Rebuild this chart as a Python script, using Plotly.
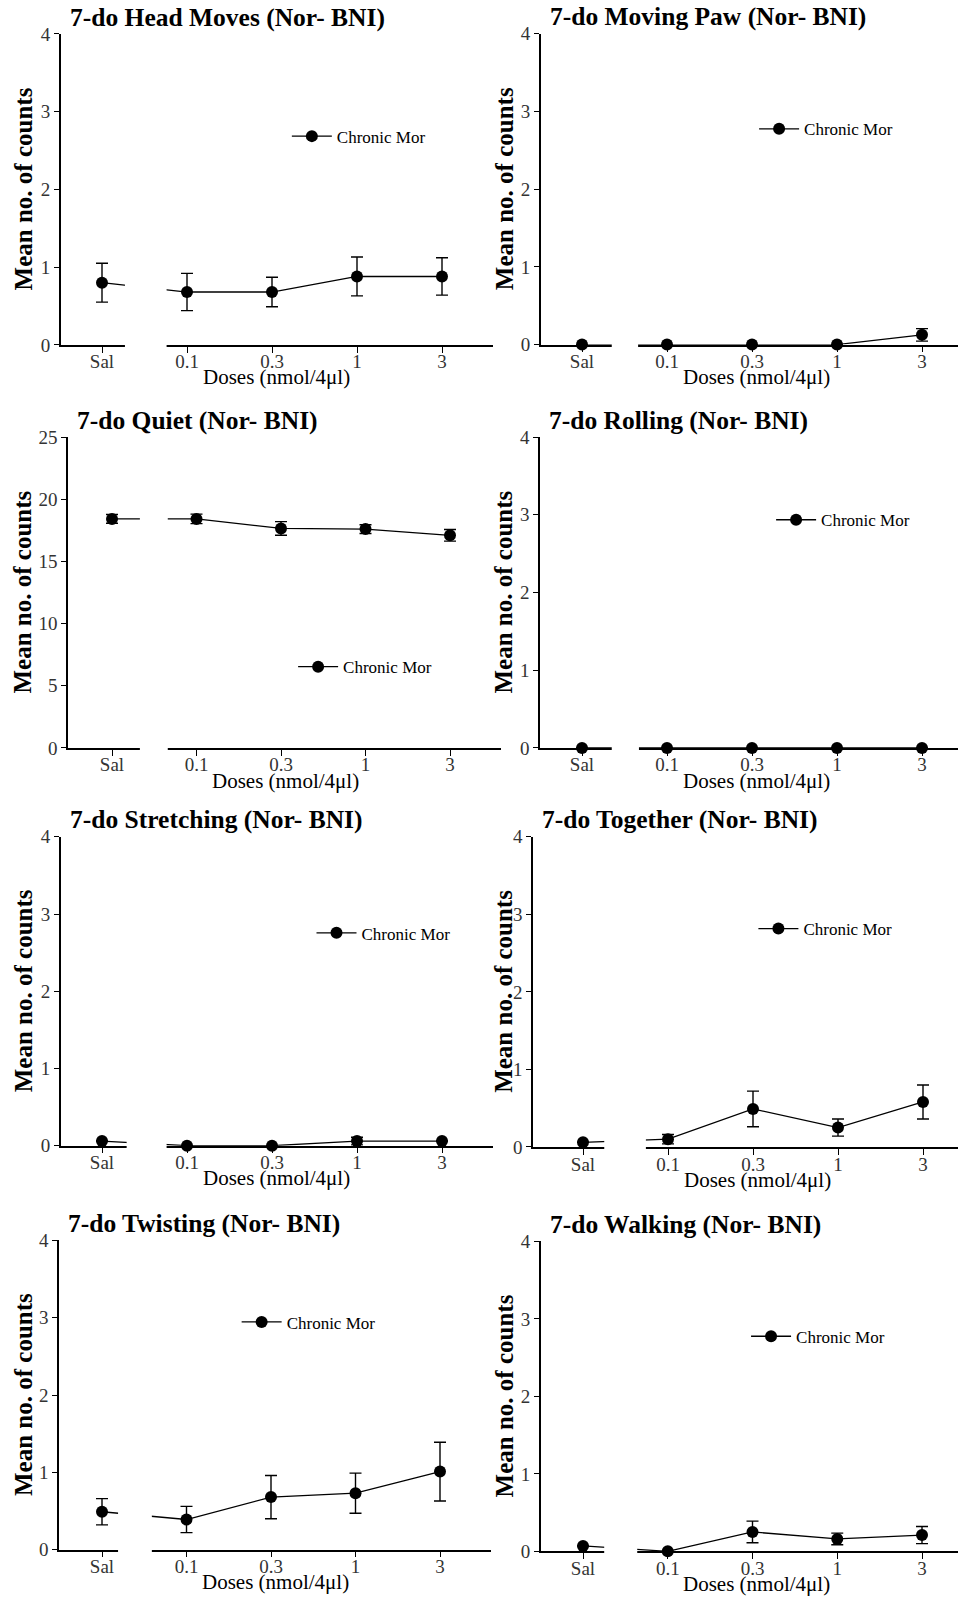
import plotly.graph_objects as go

W, H = 958, 1610

# ---------------- data ----------------
categories = ["Sal", "0.1", "0.3", "1", "3"]
series_name = "Chronic Mor"
x_title = "Doses (nmol/4\u03bcl)"
y_title = "Mean no. of counts"

panel_titles = [
    "7-do Head Moves (Nor- BNI)",
    "7-do Moving Paw (Nor- BNI)",
    "7-do Quiet (Nor- BNI)",
    "7-do Rolling (Nor- BNI)",
    "7-do Stretching (Nor- BNI)",
    "7-do Together (Nor- BNI)",
    "7-do Twisting (Nor- BNI)",
    "7-do Walking (Nor- BNI)",
]

head_moves_mean = [0.80, 0.68, 0.68, 0.88, 0.88]
head_moves_sem = [0.25, 0.24, 0.19, 0.25, 0.24]

moving_paw_mean = [0.0, 0.0, 0.0, 0.0, 0.125]
moving_paw_sem = [0.0, 0.0, 0.0, 0.0, 0.08]

quiet_mean = [18.42, 18.42, 17.65, 17.6, 17.1]
quiet_sem = [0.35, 0.38, 0.55, 0.35, 0.47]

rolling_mean = [0.0, 0.0, 0.0, 0.0, 0.0]
rolling_sem = [0.0, 0.0, 0.0, 0.0, 0.0]

stretching_mean = [0.06, 0.0, 0.0, 0.06, 0.06]
stretching_sem = [0.0, 0.0, 0.0, 0.05, 0.0]

together_mean = [0.06, 0.10, 0.49, 0.25, 0.58]
together_sem = [0.0, 0.06, 0.23, 0.11, 0.22]

twisting_mean = [0.49, 0.39, 0.68, 0.73, 1.01]
twisting_sem = [0.17, 0.17, 0.28, 0.26, 0.38]

walking_mean = [0.07, 0.0, 0.25, 0.16, 0.21]
walking_sem = [0.0, 0.0, 0.14, 0.075, 0.11]

y_max = [4, 4, 25, 4, 4, 4, 4, 4]
y_step = [1, 1, 5, 1, 1, 1, 1, 1]

means = [head_moves_mean, moving_paw_mean, quiet_mean, rolling_mean,
         stretching_mean, together_mean, twisting_mean, walking_mean]
sems = [head_moves_sem, moving_paw_sem, quiet_sem, rolling_sem,
        stretching_sem, together_sem, twisting_sem, walking_sem]

# ---------------- layout geometry (pixels) ----------------
# x0: y-axis line, xs: pixel of first category, dx: px per category,
# yt / yb: pixel of y max / y=0, brk: axis break (category units), leg: legend anchor (data units)
geom = [
    dict(x0=60.7, xs=102, dx=85.0, yt=24.3, yb=339.3, brk=(0.27, 0.76), leg=(2.41, 2.68)),
    dict(x0=540.7, xs=582, dx=85.0, yt=24.0, yb=339.0, brk=(0.35, 0.66), leg=(2.26, 2.77)),
    dict(x0=68.0, xs=112, dx=84.5, yt=432.7, yb=747.7, brk=(0.33, 0.66), leg=(2.38, 6.5)),
    dict(x0=540.0, xs=582, dx=85.0, yt=432.7, yb=747.7, brk=(0.35, 0.67), leg=(2.46, 2.93)),
    dict(x0=60.7, xs=102, dx=85.0, yt=837.7, yb=1150.7, brk=(0.29, 0.76), leg=(2.70, 2.75)),
    dict(x0=533.0, xs=583, dx=85.0, yt=837.7, yb=1152.0, brk=(0.25, 0.74), leg=(2.24, 2.81)),
    dict(x0=59.0, xs=102, dx=84.5, yt=1246.7, yb=1560.0, brk=(0.19, 0.59), leg=(1.83, 2.94)),
    dict(x0=540.7, xs=583, dx=84.75, yt=1247.7, yb=1561.7, brk=(0.25, 0.64), leg=(2.16, 2.77)),
]

SERIF = "Liberation Serif, Times New Roman, serif"

fig = go.Figure()
layout = dict(
    width=W, height=H, autosize=False,
    margin=dict(l=0, r=0, t=0, b=0),
    paper_bgcolor="white", plot_bgcolor="white",
    showlegend=True,
)
shapes = []
annotations = []

xpos = list(range(len(categories)))

for i in range(8):
    g = geom[i]
    xa = "x" if i == 0 else f"x{i + 1}"
    ya = "y" if i == 0 else f"y{i + 1}"
    xkey = "xaxis" if i == 0 else f"xaxis{i + 1}"
    ykey = "yaxis" if i == 0 else f"yaxis{i + 1}"
    lkey = "legend" if i == 0 else f"legend{i + 1}"

    xr = min(W, g["xs"] + 4.6 * g["dx"])
    r0 = (g["x0"] - g["xs"]) / g["dx"]
    r1 = (xr - g["xs"]) / g["dx"]

    fig.add_trace(go.Scatter(
        x=xpos, y=means[i],
        error_y=dict(type="data", array=sems[i], visible=True, color="black",
                     thickness=1.4, width=6),
        mode="lines+markers",
        line=dict(color="black", width=1.3),
        marker=dict(color="black", size=12),
        cliponaxis=False,
        name=series_name,
        xaxis=xa, yaxis=ya,
        legend=lkey, showlegend=True,
    ))

    layout[xkey] = dict(
        domain=[g["x0"] / W, xr / W], range=[r0, r1], anchor=ya,
        showline=True, linecolor="black", linewidth=1.5,
        ticks="outside", ticklen=6, tickwidth=1.3, tickcolor="black",
        tickvals=xpos, ticktext=categories,
        tickfont=dict(family=SERIF, size=19, color="#333"),
        ticklabelstandoff=-7,
        showgrid=False, zeroline=False, fixedrange=True,
    )
    layout[ykey] = dict(
        domain=[1 - g["yb"] / H, 1 - g["yt"] / H], range=[0, y_max[i]], anchor=xa,
        showline=True, linecolor="black", linewidth=1.5,
        ticks="outside", ticklen=5, tickwidth=1.3, tickcolor="black",
        dtick=y_step[i], tick0=0,
        tickfont=dict(family=SERIF, size=19, color="#333"),
        showgrid=False, zeroline=False, fixedrange=True,
    )

    # axis break (white mask over gap between Sal and doses)
    b1, b2 = g["brk"]
    shapes.append(dict(
        type="rect", xref=f"{xa} domain", yref=f"{ya} domain",
        x0=(b1 - r0) / (r1 - r0), x1=(b2 - r0) / (r1 - r0), y0=-0.03, y1=1.0,
        fillcolor="white", line=dict(width=0), layer="above",
    ))

    # legend placement
    lx, ly = g["leg"]
    px = g["xs"] + lx * g["dx"]
    py = g["yb"] - ly * (g["yb"] - g["yt"]) / y_max[i]
    layout[lkey] = dict(
        x=(px - 20) / W, y=1 - py / H, xanchor="left", yanchor="middle",
        bgcolor="rgba(0,0,0,0)", borderwidth=0,
        font=dict(family=SERIF, size=17, color="black"),
        itemwidth=40,
    )

    # panel title
    annotations.append(dict(
        text=f"<b>{panel_titles[i]}</b>", xref="paper", yref="paper",
        x=(g["x0"] + 7) / W, y=1 - (g["yt"] - 17) / H,
        xanchor="left", yanchor="middle", showarrow=False,
        font=dict(family=SERIF, size=25.5, color="black"),
    ))
    # y axis title
    ycx = 23 if g["x0"] < 300 else 504
    annotations.append(dict(
        text=f"<b>{y_title}</b>", xref="paper", yref="paper",
        x=ycx / W, y=1 - ((g["yt"] + g["yb"]) / 2) / H,
        xanchor="center", yanchor="middle", textangle=-90, showarrow=False,
        font=dict(family=SERIF, size=25, color="black"),
    ))
    # x axis title
    annotations.append(dict(
        text=x_title, xref="paper", yref="paper",
        x=(g["xs"] + 2.05 * g["dx"]) / W, y=1 - (g["yb"] + 33) / H,
        xanchor="center", yanchor="middle", showarrow=False,
        font=dict(family=SERIF, size=21, color="black"),
    ))

layout["shapes"] = shapes
layout["annotations"] = annotations
fig.update_layout(**layout)

fig.write_html("out.html")
